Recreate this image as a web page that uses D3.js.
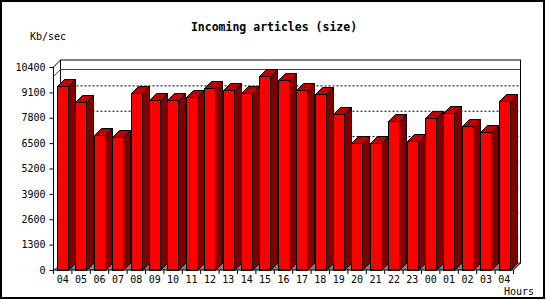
<!DOCTYPE html>
<html>
<head>
<meta charset="utf-8">
<script src="https://cdn.jsdelivr.net/npm/d3@7"></script>
<style>
  body { margin: 0; background: #fff; }
  svg text { font-family: "DejaVu Sans Mono", monospace; fill: #000; }
</style>
</head>
<body>
<div id="area"></div>
<script>
let hours = ['04','05','06','07','08','09','10','11','12','13','14','15','16',
             '17','18','19','20','21','22','23','00','01','02','03','04']
let kbPerSec = [9420, 8600, 6910, 6810, 9060, 8710, 8710, 8860, 9320, 9220, 9060, 9930, 9730,
                9220, 9010, 7990, 6500, 6500, 7630, 6610, 7780, 8040, 7370, 7070, 8660]
let yTicks = [0, 1300, 2600, 3900, 5200, 6500, 7800, 9100, 10400]

let width = 550
let height = 300
let depth = 7
let front_color = '#ff0000'
let side_color = '#800000'
let top_color = '#c00000'
let floor_color = '#808080'

let svg = d3.select('#area').append('svg')
  .attr('width', width).attr('height', height)

// outer frame
svg.append('rect')
  .attr('x', 1).attr('y', 1).attr('width', 543).attr('height', 297)
  .attr('fill', '#fff').attr('stroke', '#000').attr('stroke-width', 2)

let x = d3.scaleBand().domain(d3.range(hours.length)).range([53.5, 513.5]).padding(0)
let y = d3.scaleLinear().domain([0, 10400]).range([270, 67])

let x0 = x.range()[0], x1 = x.range()[1]
let y0 = y(0), yTop = y(10400)

// back wall
svg.append('rect')
  .attr('x', x0 + depth).attr('y', yTop - depth)
  .attr('width', x1 - x0).attr('height', y0 - yTop)
  .attr('fill', '#fff').attr('stroke', '#000')

// floor
svg.append('polygon')
  .attr('points', [[x0, y0], [x1, y0], [x1 + depth, y0 - depth], [x0 + depth, y0 - depth]].join(' '))
  .attr('fill', floor_color)

// dotted grid on the back wall
svg.append('g').selectAll('line')
  .data(yTicks.filter(d => d > 0 && d < 10400))
  .join('line')
  .attr('x1', x0 + depth).attr('x2', x1 + depth)
  .attr('y1', d => y(d) - depth + 0.5).attr('y2', d => y(d) - depth + 0.5)
  .attr('stroke', '#000').attr('stroke-dasharray', '2,2')

// max line
let maxVal = d3.max(kbPerSec)
let ym = Math.round(y(maxVal)) + 0.5
svg.append('polyline')
  .attr('points', [[x0, ym], [x0 + depth, ym - depth], [x1 + depth, ym - depth]].join(' '))
  .attr('fill', 'none').attr('stroke', '#e00000')

// bars
let bw = 11
let bars = svg.append('g').selectAll('g')
  .data(kbPerSec)
  .join('g')

bars.each(function(v, i) {
  let g = d3.select(this)
  let xl = Math.round(x(i) + 3.4) + 0.5
  let xr = xl + bw
  let yt = Math.round(y(v)) + 0.5
  let yb = y0 + 0.5
  g.append('polygon')
    .attr('points', [[xr, yt], [xr + depth, yt - depth], [xr + depth, yb - depth], [xr, yb]].join(' '))
    .attr('fill', side_color).attr('stroke', '#000')
  g.append('polygon')
    .attr('points', [[xl, yt], [xl + depth, yt - depth], [xr + depth, yt - depth], [xr, yt]].join(' '))
    .attr('fill', top_color).attr('stroke', '#000')
  g.append('rect')
    .attr('x', xl).attr('y', yt).attr('width', bw).attr('height', yb - yt)
    .attr('fill', front_color).attr('stroke', '#000')
})

// front frame lines
svg.append('polyline')
  .attr('points', [[x0 + depth, yTop - depth], [x0, yTop], [x0, y0], [x1, y0], [x1 + depth, y0 - depth]].join(' '))
  .attr('fill', 'none').attr('stroke', '#000')

// y axis
let yAxis = svg.append('g')
  .attr('transform', 'translate(' + x0 + ',0)')
  .call(d3.axisLeft(y).tickValues(yTicks).tickFormat(d3.format('d'))
    .tickSize(4).tickPadding(4).tickSizeOuter(0))
yAxis.select('.domain').remove()
yAxis.selectAll('text').style('font-size', '10px')

// x axis, ticks between the bars
let xAxis = svg.append('g')
  .attr('transform', 'translate(0,' + y0 + ')')
  .call(d3.axisBottom(x).tickSize(0).tickPadding(6).tickFormat(i => hours[i]))
xAxis.select('.domain').remove()
xAxis.selectAll('text').style('font-size', '10px')
svg.append('g').selectAll('line')
  .data(d3.range(hours.length + 1))
  .join('line')
  .attr('x1', i => x0 + i * x.step()).attr('x2', i => x0 + i * x.step())
  .attr('y1', y0).attr('y2', y0 + 4)
  .attr('stroke', '#000')

// texts
svg.append('text')
  .attr('x', 274).attr('y', 31)
  .attr('text-anchor', 'middle')
  .style('font-size', '11.5px').style('font-weight', 'bold')
  .text('Incoming articles (size)')

svg.append('text')
  .attr('x', 30).attr('y', 40)
  .style('font-size', '10px')
  .text('Kb/sec')

svg.append('text')
  .attr('x', 534).attr('y', 295)
  .attr('text-anchor', 'end')
  .style('font-size', '10px')
  .text('Hours')
</script>
</body>
</html>
